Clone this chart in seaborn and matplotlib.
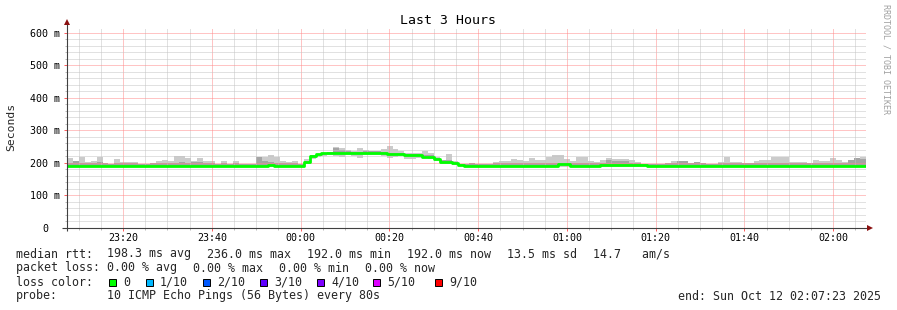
import numpy as np
import pandas as pd
import matplotlib
matplotlib.use("Agg")
import matplotlib.pyplot as plt
import matplotlib.dates as mdates
from matplotlib.ticker import MultipleLocator
from matplotlib.patches import Rectangle
from matplotlib.transforms import ScaledTranslation
import seaborn as sns

# ---------------- data ----------------
start_time = "2025-10-11 23:07:23"
step_seconds = 80

median_ms = [
    192, 192, 192, 192, 192, 192, 192, 192, 192, 192,
    192, 192, 192, 192, 192, 192, 192, 192, 192, 192,
    192, 192, 192, 192, 192, 192, 192, 192, 192, 192,
    192, 192, 192, 192, 195, 192, 192, 192, 192, 192,
    203, 221, 227, 230, 232, 232, 232, 232, 230, 230,
    232, 232, 232, 230, 228, 228, 228, 225, 225, 225,
    219, 219, 212, 204, 204, 200, 194, 192, 192, 192,
    192, 192, 192, 192, 192, 192, 192, 192, 192, 192,
    192, 192, 192, 196, 196, 192, 192, 192, 192, 192,
    195, 195, 195, 195, 195, 195, 195, 195, 192, 192,
    192, 192, 192, 192, 192, 192, 192, 192, 192, 192,
    192, 192, 192, 192, 192, 192, 192, 192, 192, 192,
    192, 192, 192, 192, 192, 192, 192, 192, 192, 192,
    192, 192, 192, 192, 192,
]

smoke_high_ms = [
    215, 206, 218, 204, 205, 218, 200, 197, 212, 203,
    202, 203, 197, 197, 199, 207, 210, 206, 221, 221,
    214, 205, 214, 206, 206, 197, 206, 197, 206, 197,
    197, 197, 219, 218, 225, 219, 206, 204, 206, 197,
    212, 225, 228, 232, 234, 250, 247, 240, 237, 246,
    240, 237, 237, 243, 252, 243, 237, 230, 232, 232,
    238, 230, 219, 209, 228, 207, 197, 197, 200, 197,
    197, 197, 202, 206, 206, 212, 210, 206, 216, 210,
    210, 219, 225, 225, 212, 206, 218, 218, 206, 203,
    210, 214, 212, 212, 212, 210, 203, 197, 197, 197,
    197, 200, 205, 207, 205, 200, 202, 200, 197, 197,
    203, 218, 203, 203, 199, 199, 206, 209, 209, 219,
    219, 219, 202, 202, 202, 199, 210, 206, 206, 214,
    210, 202, 210, 216, 219,
]

smoke_low_ms = [
    189, 189, 189, 189, 189, 189, 189, 189, 189, 189,
    189, 189, 189, 189, 189, 189, 189, 189, 189, 189,
    189, 189, 189, 189, 189, 189, 189, 189, 189, 189,
    189, 189, 189, 189, 189, 189, 189, 189, 189, 189,
    198, 212, 218, 222, 224, 222, 218, 224, 222, 216,
    224, 226, 225, 222, 215, 218, 222, 212, 212, 215,
    218, 212, 205, 198, 196, 194, 190, 189, 189, 189,
    189, 189, 189, 189, 189, 189, 189, 189, 189, 189,
    189, 189, 189, 189, 189, 189, 189, 189, 189, 189,
    189, 189, 189, 189, 189, 189, 189, 189, 189, 189,
    189, 189, 189, 189, 189, 189, 189, 189, 189, 189,
    189, 189, 189, 189, 189, 189, 189, 189, 189, 189,
    189, 189, 189, 189, 189, 189, 189, 189, 189, 189,
    189, 189, 189, 189, 189,
]

smoke_dark_ms = [
    200, 206, 200, 200, 200, 203, 200, 200, 200, 200,
    200, 200, 200, 200, 200, 200, 200, 200, 200, 204,
    200, 203, 203, 200, 200, 200, 200, 200, 200, 200,
    200, 200, 219, 207, 203, 200, 200, 200, 200, 200,
    207, 225, 231, 234, 236, 246, 240, 236, 234, 234,
    236, 236, 236, 234, 232, 232, 232, 229, 229, 229,
    223, 223, 216, 208, 208, 204, 197, 197, 200, 200,
    200, 200, 200, 200, 200, 200, 200, 200, 200, 200,
    200, 200, 200, 200, 200, 200, 200, 200, 200, 200,
    200, 209, 207, 207, 207, 200, 200, 200, 200, 200,
    200, 200, 200, 206, 206, 204, 202, 202, 200, 200,
    200, 200, 200, 200, 200, 200, 200, 200, 200, 200,
    200, 200, 200, 200, 200, 200, 200, 200, 200, 200,
    200, 200, 214, 214, 212,
]

y_ticks = [0, 100, 200, 300, 400, 500, 600]
y_tick_labels = ["0", "100 m", "200 m", "300 m", "400 m", "500 m", "600 m"]

title = "Last 3 Hours"
y_label = "Seconds"
watermark = "RRDTOOL / TOBI OETIKER"

row1 = ["median rtt:", "198.3 ms avg", "236.0 ms max", "192.0 ms min",
        "192.0 ms now", "13.5 ms sd", "14.7   am/s"]
row1_x = [16, 107, 207, 307, 407, 507, 593]
row2 = ["packet loss:", "0.00 % avg", "0.00 % max", "0.00 % min", "0.00 % now"]
row2_x = [16, 107, 193, 279, 365]
loss_label = "loss color:"
loss_names = ["0", "1/10", "2/10", "3/10", "4/10", "5/10", "9/10"]
loss_colors = ["#00ff00", "#00b8ff", "#0059ff", "#5e00ff", "#7e00ff", "#dd00ff", "#ff0000"]
loss_box_x = [109, 146, 203, 260, 317, 373, 435]
probe_label = "probe:"
probe_text = "10 ICMP Echo Pings (56 Bytes) every 80s"
end_text = "end: Sun Oct 12 02:07:23 2025"

# ---------------- style ----------------
sns.set_theme(style="white")
plt.rcParams["font.family"] = ["DejaVu Sans Mono"]
plt.rcParams["axes.unicode_minus"] = False

W, H = 897, 310
fig = plt.figure(figsize=(W / 100, H / 100), dpi=100, facecolor="white")
ax = fig.add_axes([67 / W, 82 / H, 799 / W, 200 / H], facecolor="white")


def ext(a):
    a = np.asarray(a, dtype=float)
    return np.append(a, a[-1])


times = pd.date_range(start_time, periods=len(median_ms) + 1, freq=f"{step_seconds}s")
med = ext(median_ms)
lo = ext(smoke_low_ms)
hi = ext(smoke_high_ms)
dk = np.minimum(ext(smoke_dark_ms), hi)

ax.fill_between(times, lo, hi, step="post", color="#cbcbcb", lw=0, zorder=1)
ax.fill_between(times, med, dk, step="post", color="#a4a4a4", lw=0, zorder=1.1)

sns.lineplot(x=times, y=med, drawstyle="steps-post", color="#00ff00",
             linewidth=2.0, ax=ax, zorder=3)

ax.set_xlim(times[0], times[-1])
ax.set_ylim(0, 615)
ax.set_xlabel("")
ax.set_ylabel("")

ax.xaxis.set_major_locator(mdates.MinuteLocator(byminute=[0, 20, 40]))
ax.xaxis.set_minor_locator(mdates.MinuteLocator(byminute=range(0, 60, 5)))
ax.xaxis.set_major_formatter(mdates.DateFormatter("%H:%M"))
ax.set_yticks(y_ticks)
ax.set_yticklabels(y_tick_labels)
ax.yaxis.set_minor_locator(MultipleLocator(20))

ax.set_axisbelow("line")
ax.grid(which="major", axis="both", color="#ff8a8a", linestyle=(0, (1, 1)), linewidth=0.72)
ax.grid(which="minor", axis="both", color="#c4c4c4", linestyle=(0, (1, 1)), linewidth=0.72)

for s in ax.spines.values():
    s.set_visible(False)

ax.tick_params(axis="x", which="major", bottom=True, length=2.2, width=0.72,
               color="#ff6060", pad=1.5, labelsize=7.2, labelcolor="black")
ax.tick_params(axis="x", which="minor", bottom=True, length=1.5, width=0.72, color="#bbbbbb")
ax.tick_params(axis="y", which="major", left=True, length=2.2, width=0.72,
               color="#ff6060", pad=2.5, labelsize=7.2, labelcolor="black")
ax.tick_params(axis="y", which="minor", left=True, length=1.5, width=0.72, color="#bbbbbb")

for t, lab in zip(ax.yaxis.get_major_ticks(), y_tick_labels):
    if lab == "0":
        t.label1.set_transform(t.label1.get_transform() +
                               ScaledTranslation(-12 / 100, 0, fig.dpi_scale_trans))

# axis lines and arrows (decoration in axes coords)
ax.plot([-5 / 799, 1.004], [0, 0], transform=ax.transAxes, color="#404040",
        lw=0.8, clip_on=False, zorder=5, solid_capstyle="butt")
ax.plot([0, 0], [-3 / 200, 1.02], transform=ax.transAxes, color="#404040",
        lw=0.8, clip_on=False, zorder=5, solid_capstyle="butt")
ax.plot([0], [1.0275], marker="^", ms=4.5, color="#8b1010", mew=0,
        transform=ax.transAxes, clip_on=False, zorder=6)
ax.plot([1.0055], [0], marker=">", ms=4.5, color="#8b1010", mew=0,
        transform=ax.transAxes, clip_on=False, zorder=6)

# texts
def fx(x):
    return x / W


def fy(y):
    return 1 - y / H


fig.text(fx(448), fy(24), title, ha="center", va="baseline", fontsize=9.5, color="black")
fig.text(fx(11), fy(127), y_label, rotation=90, ha="center", va="center", fontsize=8.2)
fig.text(fx(886), fy(4), watermark, rotation=-90, ha="center", va="top",
         fontsize=6, color="#a0a0a0")

fs = 8.4
b1, b2, b3, b4 = 257.5, 271.5, 285.5, 299.5
for txt, x in zip(row1, row1_x):
    fig.text(fx(x), fy(b1), txt, ha="left", va="baseline", fontsize=fs)
for txt, x in zip(row2, row2_x):
    fig.text(fx(x), fy(b2), txt, ha="left", va="baseline", fontsize=fs)
fig.text(fx(16), fy(b3), loss_label, ha="left", va="baseline", fontsize=fs)
for name, col, x in zip(loss_names, loss_colors, loss_box_x):
    fig.patches.append(Rectangle((fx(x), fy(286)), 7 / W, 7 / H, transform=fig.transFigure,
                                 facecolor=col, edgecolor="black", lw=0.7))
    fig.text(fx(x + 14), fy(b3), name, ha="left", va="baseline", fontsize=fs)
fig.text(fx(16), fy(b4), probe_label, ha="left", va="baseline", fontsize=fs)
fig.text(fx(107), fy(b4), probe_text, ha="left", va="baseline", fontsize=fs)
fig.text(fx(881), fy(b4), end_text, ha="right", va="baseline", fontsize=fs)

fig.savefig("out.png", dpi=100, facecolor="white")
